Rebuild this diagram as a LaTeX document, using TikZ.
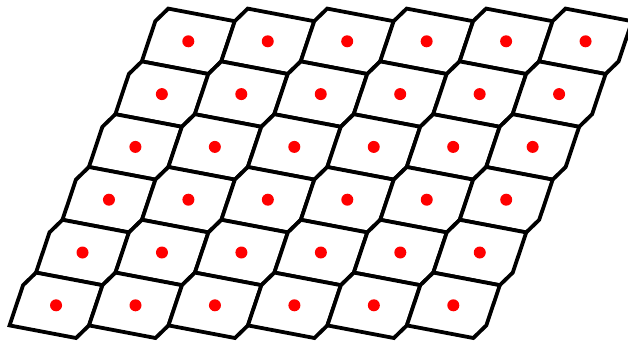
\documentclass[tikz,border=0pt]{standalone}
\begin{document}
\begin{tikzpicture}[x=1pt,y=-1pt,
  cell/.style={draw=black,line width=3.8pt,fill=white},
  seed/.style={fill=red}]
\path[use as bounding box] (0,0) rectangle (628,340);
\clip (0,0) rectangle (628,340);
\foreach \j in {0,...,5}{
  \foreach \i in {0,...,5}{
    \pgfmathsetmacro\cx{188.3+79.45*\i-26.45*\j}
    \pgfmathsetmacro\cy{41.3+52.8*\j}
    \draw[cell] (\cx-46.5,\cy+20.1) -- (\cx-33,\cy-20.1) -- (\cx-20,\cy-32.7)
      -- (\cx+46.5,\cy-20.1) -- (\cx+33,\cy+20.1) -- (\cx+20,\cy+32.7) -- cycle;
    \fill[seed] (\cx,\cy) circle (6pt);
  }
}
\end{tikzpicture}
\end{document}
